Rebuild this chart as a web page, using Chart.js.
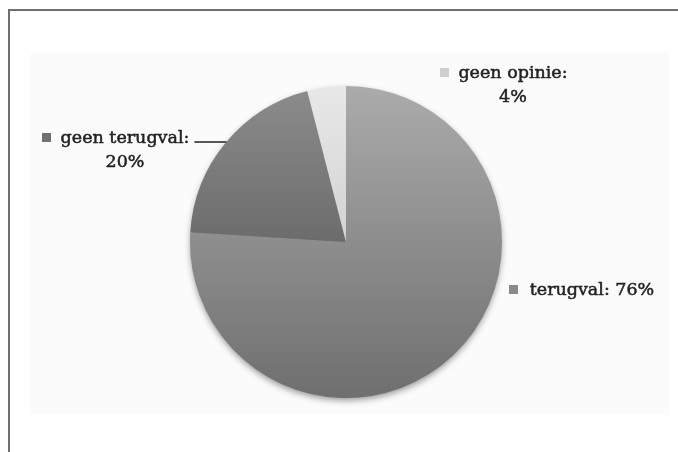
<!DOCTYPE html>
<html>
<head>
<meta charset="utf-8">
<script src="https://cdn.jsdelivr.net/npm/chart.js@4"></script>
<style>
  html, body { margin: 0; padding: 0; background: #ffffff; }
  #wrap { position: relative; width: 678px; height: 452px; }
  canvas { display: block; }
</style>
</head>
<body>
<div id="wrap"><canvas id="c" width="678" height="452"></canvas></div>
<script>
// Antwoorden op de vraag over terugval
const categories = ['terugval', 'geen terugval', 'geen opinie'];
const percentages = [76, 20, 4];
const labelTexts = [['terugval: 76%'], ['geen terugval:', '20%'], ['geen opinie:', '4%']];

// Vertical gradient stops per slice (top, bottom of the pie)
const sliceShades = [
  ['#ababab', '#6f6f6f'],
  ['#8c8c8c', '#4c4c4c'],
  ['#e8e8e8', '#bdbdbd']
];
const keyColours = ['#8a8a8a', '#707070', '#cfcfcf'];

// Label placement: key square left edge, text centre x, first line centre y
const labelLayout = [
  { keyX: 509, textX: 592, y: 290, leader: false },
  { keyX: 42, textX: 125, y: 138, leader: true },
  { keyX: 440, textX: 513, y: 73, leader: false }
];

const FONT = '17.5px "DejaVu Serif"';
const LINE_H = 24;

function sliceFill(ctx) {
  const i = ctx.dataIndex ?? 0;
  const area = ctx.chart.chartArea;
  if (!area) return sliceShades[i][0];
  const g = ctx.chart.ctx.createLinearGradient(0, area.top, 0, area.bottom);
  g.addColorStop(0, sliceShades[i][0]);
  g.addColorStop(1, sliceShades[i][1]);
  return g;
}

const framePlugin = {
  id: 'frame',
  beforeDraw(chart) {
    const c = chart.ctx;
    c.save();
    c.fillStyle = '#ffffff';
    c.fillRect(0, 0, chart.width, chart.height);
    // light panel behind the pie
    c.fillStyle = '#fbfbfb';
    c.fillRect(30, 53, 639, 362);
    // outer frame (top and left edges)
    c.strokeStyle = '#6f6f6f';
    c.lineWidth = 2;
    c.beginPath();
    c.moveTo(9, chart.height);
    c.lineTo(9, 10);
    c.lineTo(chart.width, 10);
    c.stroke();
    c.restore();
  }
};

const shadowPlugin = {
  id: 'pieShadow',
  beforeDatasetsDraw(chart) {
    const arc = chart.getDatasetMeta(0).data[0];
    if (!arc) return;
    const c = chart.ctx;
    c.save();
    c.shadowColor = 'rgba(0,0,0,0.45)';
    c.shadowBlur = 7;
    c.shadowOffsetY = 3;
    c.fillStyle = '#808080';
    c.beginPath();
    c.arc(arc.x, arc.y, arc.outerRadius - 1, 0, Math.PI * 2);
    c.fill();
    c.restore();
  }
};

const labelPlugin = {
  id: 'sliceLabels',
  afterDatasetsDraw(chart) {
    const meta = chart.getDatasetMeta(0);
    const c = chart.ctx;
    c.save();
    c.font = FONT;
    c.textAlign = 'center';
    c.textBaseline = 'middle';
    meta.data.forEach((arc, i) => {
      const L = labelLayout[i];
      const lines = labelTexts[i];
      // key square
      c.fillStyle = keyColours[i];
      c.fillRect(L.keyX, L.y - 5, 9, 9);
      c.fillStyle = '#222222';
      c.strokeStyle = '#222222';
      c.lineWidth = 0.5;
      lines.forEach((t, k) => {
        c.fillText(t, L.textX, L.y + k * LINE_H);
        c.strokeText(t, L.textX, L.y + k * LINE_H);
      });
      if (L.leader) {
        const mid = (arc.startAngle + arc.endAngle) / 2;
        const ex = arc.x + Math.cos(mid) * arc.outerRadius;
        const ey = arc.y + Math.sin(mid) * arc.outerRadius;
        const w = c.measureText(lines[0]).width;
        const sx = L.textX + w / 2 + 5;
        c.strokeStyle = '#222222';
        c.lineWidth = 1.3;
        c.beginPath();
        c.moveTo(sx, L.y + 4);
        c.lineTo(ex, L.y + 4);
        c.lineTo(ex, ey);
        c.stroke();
      }
    });
    c.restore();
  }
};

new Chart(document.getElementById('c'), {
  type: 'pie',
  data: {
    labels: categories,
    datasets: [{
      data: percentages,
      backgroundColor: sliceFill,
      borderWidth: 0
    }]
  },
  options: {
    responsive: false,
    animation: false,
    layout: { padding: { left: 190, right: 176, top: 86, bottom: 54 } },
    plugins: {
      legend: { display: false },
      tooltip: { enabled: false }
    }
  },
  plugins: [framePlugin, shadowPlugin, labelPlugin]
});
</script>
</body>
</html>
